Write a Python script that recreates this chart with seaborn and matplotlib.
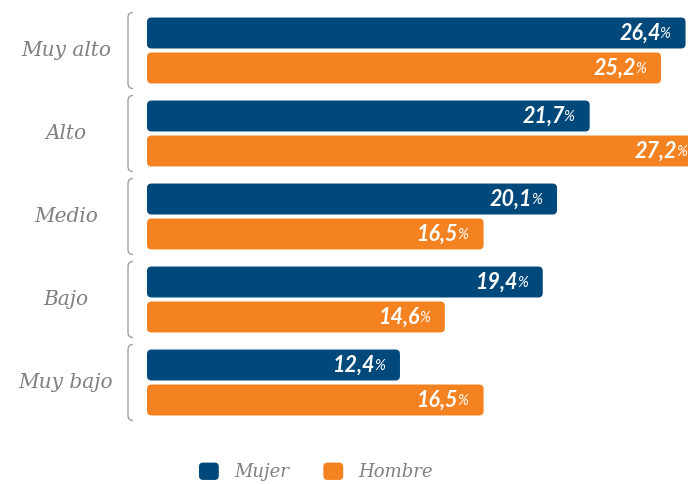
import matplotlib
matplotlib.use("Agg")
import matplotlib.pyplot as plt
import matplotlib.transforms as mtransforms
from matplotlib.patches import FancyBboxPatch, PathPatch, Rectangle
from matplotlib.path import Path
from matplotlib.legend_handler import HandlerPatch
import seaborn as sns
import pandas as pd

# --- data ---
categories = ["Muy alto", "Alto", "Medio", "Bajo", "Muy bajo"]
mujer = [26.4, 21.7, 20.1, 19.4, 12.4]
hombre = [25.2, 27.2, 16.5, 14.6, 16.5]
series_names = ["Mujer", "Hombre"]

NAVY = "#00497a"
ORANGE = "#f58220"
GRAY = "#808080"
LABEL_FONT = "DejaVu Serif"
VALUE_FONT = "Lato"

df = pd.DataFrame({
    "nivel": categories * 2,
    "valor": mujer + hombre,
    "sexo": [series_names[0]] * len(categories) + [series_names[1]] * len(categories),
})

sns.set_theme(style="white")
plt.rcParams["font.family"] = ["DejaVu Sans"]

W, H, DPI = 688, 484, 100
fig = plt.figure(figsize=(W / DPI, H / DPI), dpi=DPI)
ax_left, ax_top, ax_bottom = 147, 0, 440
ax = fig.add_axes([ax_left / W, 1 - ax_bottom / H, (W - ax_left) / W, (ax_bottom - ax_top) / H])

sns.barplot(data=df, y="nivel", x="valor", hue="sexo", order=categories,
            hue_order=series_names, palette=[NAVY, ORANGE], saturation=1, orient="h",
            width=0.843, gap=0.115, dodge=True, ax=ax, legend=True)

# keep the legend entries before the bars get restyled
old_leg = ax.get_legend()
leg_colors = [h.get_facecolor() for h in old_leg.legend_handles]
leg_labels = [t.get_text() for t in old_leg.get_texts()]
old_leg.remove()

xmax = 26.52
px_per_unit_y = 83.0
ax.set_xlim(0, xmax)
ax.set_ylim(4 + (ax_bottom - 382.5) / px_per_unit_y, -50.5 / px_per_unit_y)

# rounded corners for every bar
px_per_unit_x = (W - ax_left) / xmax
r_px = 4.5
rounding = r_px / px_per_unit_x
aspect = (r_px / px_per_unit_y) / rounding
bars = [p for p in ax.patches]
for p in bars:
    x, y = p.get_x(), p.get_y()
    w, h = p.get_width(), p.get_height()
    fc = p.get_facecolor()
    p.remove()
    if w <= 0:
        continue
    ax.add_patch(FancyBboxPatch((x, y), w, h,
                                boxstyle=f"round,pad=0,rounding_size={rounding}",
                                mutation_aspect=aspect, facecolor=fc,
                                edgecolor="none", zorder=2))

# value labels inside the bar ends
offset_y = 0.211
for i, cat in enumerate(categories):
    for val, dy in ((mujer[i], -offset_y), (hombre[i], offset_y)):
        yy = i + dy
        ax.annotate("%", xy=(val, yy), xytext=(-10.8, -0.5), textcoords="offset points",
                    ha="right", va="center", color="white", fontsize=10.5,
                    family=VALUE_FONT, fontstyle="italic", annotation_clip=False, zorder=3)
        ax.annotate(f"{val:.1f}".replace(".", ","), xy=(val, yy), xytext=(-17.8, 0),
                    textcoords="offset points", ha="right", va="center", color="white",
                    fontsize=15.5, family=VALUE_FONT, fontweight="bold", fontstyle="italic",
                    annotation_clip=False, zorder=3)

# category labels and brackets on the left
blend = mtransforms.blended_transform_factory(ax.transAxes, ax.transData)
ax_w_px = W - ax_left
x_label = (66 - ax_left) / ax_w_px
x_br = (128 - ax_left) / ax_w_px
curl_x = 5 / ax_w_px
curl_y = 5 / px_per_unit_y
half = 38 / px_per_unit_y
for i, cat in enumerate(categories):
    ax.text(x_label, i, cat, transform=blend, ha="center", va="center",
            fontsize=14.5, family=LABEL_FONT, fontstyle="italic", color=GRAY)
    top, bot = i - half, i + half
    verts = [(x_br + curl_x, top), (x_br, top), (x_br, top + curl_y),
             (x_br, bot - curl_y), (x_br, bot), (x_br + curl_x, bot)]
    codes = [Path.MOVETO, Path.CURVE3, Path.CURVE3, Path.LINETO, Path.CURVE3, Path.CURVE3]
    ax.add_patch(PathPatch(Path(verts, codes), transform=blend, fill=False,
                           edgecolor="#a0a0a0", lw=1.0, clip_on=False))

ax.set_xlabel("")
ax.set_ylabel("")
ax.set_xticks([])
ax.set_yticks([])
sns.despine(ax=ax, left=True, bottom=True)


# legend with rounded square keys
class RoundedHandler(HandlerPatch):
    def create_artists(self, legend, orig_handle, xdescent, ydescent, width, height, fontsize, trans):
        p = FancyBboxPatch((-xdescent, -ydescent), width, height,
                           boxstyle="round,pad=0,rounding_size=3",
                           facecolor=orig_handle.get_facecolor(), edgecolor="none",
                           transform=trans)
        return [p]


handles = [Rectangle((0, 0), 1, 1, facecolor=c) for c in leg_colors]
leg = fig.legend(handles, leg_labels, loc="center", bbox_to_anchor=(316 / W, 1 - 472 / H),
                 ncol=2, frameon=False, handlelength=1.1, handleheight=1.1,
                 handletextpad=0.85, columnspacing=1.9,
                 handler_map={Rectangle: RoundedHandler()},
                 prop={"family": LABEL_FONT, "style": "italic", "size": 13})
for t in leg.get_texts():
    t.set_color(GRAY)

fig.savefig("out.png", dpi=DPI)
